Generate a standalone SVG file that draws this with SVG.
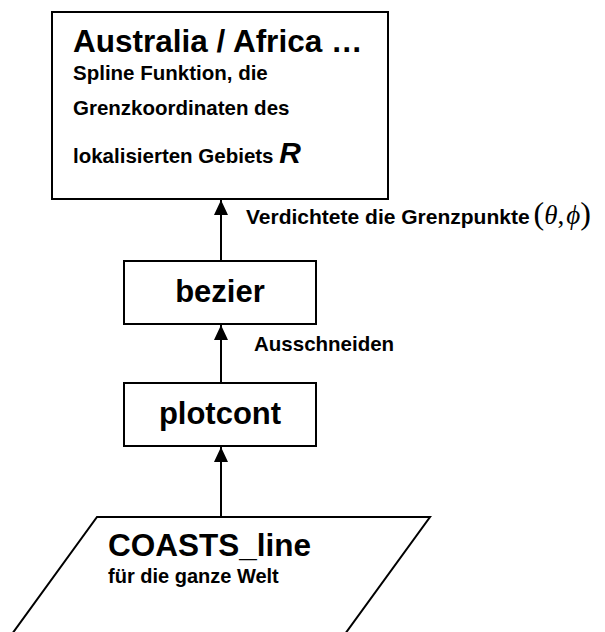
<svg xmlns="http://www.w3.org/2000/svg" width="605" height="632" viewBox="0 0 605 632">
<defs>
<marker id="ah" markerUnits="userSpaceOnUse" markerWidth="14" markerHeight="15" refX="15" refY="7" orient="auto">
<path d="M0,0 L15,7 L0,14 Z" fill="#000"/>
</marker>
<style>
.box{fill:#fff;stroke:#000;stroke-width:2}
.t{font-family:"Liberation Sans",Arial,sans-serif;font-weight:bold;fill:#000}
.conn{stroke:#000;stroke-width:2;fill:none;marker-end:url(#ah)}
.m{font-family:"Liberation Serif","Times New Roman",serif;font-weight:normal;fill:#000}
</style>
</defs>
<rect width="605" height="632" fill="#fff"/>
<g id="connectors">
<line class="conn" x1="221" y1="261" x2="221" y2="200"/>
<line class="conn" x1="221" y1="383" x2="221" y2="325"/>
<line class="conn" x1="221" y1="517" x2="221" y2="447"/>
</g>
<g id="labels">
<text class="t" x="246" y="224" font-size="21">Verdichtete die Grenzpunkte<tspan class="m" font-size="32" dx="4">(</tspan><tspan class="m" font-style="italic" font-size="27">θ</tspan><tspan class="m" font-size="27">,</tspan><tspan class="m" font-style="italic" font-size="27" dx="2">ϕ</tspan><tspan class="m" font-size="32">)</tspan></text>
<text class="t" x="254" y="351" font-size="20.5">Ausschneiden</text>
</g>
<g id="node-region">
<rect class="box" x="52" y="12" width="336" height="187"/>
<text class="t" x="73" y="52" font-size="31.5">Australia / Africa …</text>
<text class="t" x="73" y="80" font-size="20.5">Spline Funktion, die</text>
<text class="t" x="73" y="115" font-size="20.5">Grenzkoordinaten des</text>
<text class="t" x="73" y="163" font-size="20.5">lokalisierten Gebiets <tspan font-size="30" font-style="italic">R</tspan></text>
</g>
<g id="node-bezier">
<rect class="box" x="124" y="261" width="192" height="63"/>
<text class="t" x="220" y="302" font-size="31" text-anchor="middle">bezier</text>
</g>
<g id="node-plotcont">
<rect class="box" x="124" y="383" width="192" height="63"/>
<text class="t" x="220" y="424" font-size="31" text-anchor="middle">plotcont</text>
</g>
<g id="node-coasts">
<polygon class="box" points="97,517 430,517 345,634 12,634"/>
<text class="t" x="108" y="556" font-size="31.5">COASTS_line</text>
<text class="t" x="108" y="583" font-size="20">für die ganze Welt</text>
</g>
</svg>
